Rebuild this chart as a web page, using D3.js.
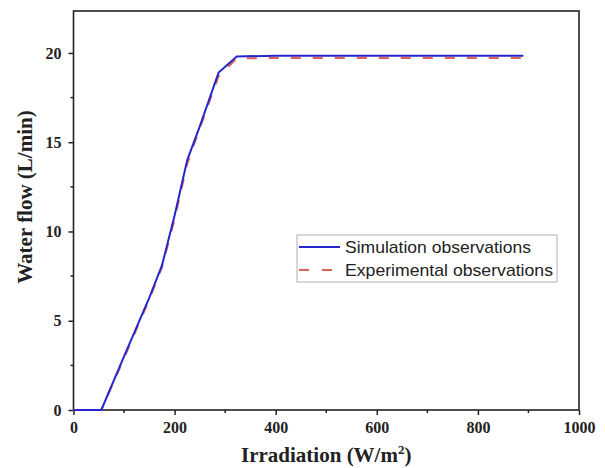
<!DOCTYPE html>
<html>
<head>
<meta charset="utf-8">
<script src="https://cdn.jsdelivr.net/npm/d3@7"></script>
<style>
  html, body { margin: 0; padding: 0; background: #fff; }
  svg { display: block; }
</style>
</head>
<body>
<svg id="chart" width="605" height="468"></svg>
<script>
// Irradiation (W/m²) vs water flow (L/min)
const simIrradiation = [0, 55, 100, 150, 175, 200, 225, 250, 287, 323, 400, 500, 600, 700, 800, 890];
const simFlow        = [0, 0, 3.0, 6.3, 8.1, 10.9, 14.0, 15.9, 18.9, 19.8, 19.85, 19.85, 19.85, 19.85, 19.85, 19.85];

const expIrradiation = [0, 55, 100, 150, 175, 200, 225, 250, 287, 323, 400, 500, 600, 700, 800, 890];
const expFlow        = [0, 0, 2.9, 6.2, 8.0, 10.7, 13.8, 15.8, 18.7, 19.7, 19.72, 19.72, 19.72, 19.72, 19.72, 19.72];

const xTicks = [0, 200, 400, 600, 800, 1000];
const yTicks = [0, 5, 10, 15, 20];
const seriesNames = ["Simulation observations", "Experimental observations"];

const svg = d3.select("#chart");
const plotLeft = 73.5, plotRight = 579, plotTop = 11, plotBottom = 410;

const x = d3.scaleLinear().domain([0, 1000]).range([plotLeft, plotRight]);
const y = d3.scaleLinear().domain([0, 22.35]).range([plotBottom, plotTop]);

const axisColor = "#222";
const tickFont = "'Liberation Serif', 'Times New Roman', serif";

// minor ticks
const xMinor = d3.range(100, 1000, 200);
const yMinor = d3.range(2.5, 22.5, 5);

svg.append("g").selectAll("line").data(xMinor).join("line")
  .attr("x1", d => x(d)).attr("x2", d => x(d))
  .attr("y1", plotBottom).attr("y2", plotBottom + 3)
  .attr("stroke", axisColor).attr("stroke-width", 1.5);
svg.append("g").selectAll("line").data(yMinor).join("line")
  .attr("x1", plotLeft - 3).attr("x2", plotLeft)
  .attr("y1", d => y(d)).attr("y2", d => y(d))
  .attr("stroke", axisColor).attr("stroke-width", 1.5);

// x axis
const gx = svg.append("g").attr("transform", `translate(0,${plotBottom})`)
  .call(d3.axisBottom(x).tickValues(xTicks).tickSize(5).tickPadding(7).tickFormat(d3.format("d")));
gx.select(".domain").remove();
gx.selectAll("line").attr("stroke", axisColor).attr("stroke-width", 1.5);
gx.selectAll("text").attr("fill", "#222").attr("font-family", tickFont)
  .attr("font-weight", "bold").attr("font-size", 16);

// y axis
const gy = svg.append("g").attr("transform", `translate(${plotLeft},0)`)
  .call(d3.axisLeft(y).tickValues(yTicks).tickSize(5).tickPadding(7).tickFormat(d3.format("d")));
gy.select(".domain").remove();
gy.selectAll("line").attr("stroke", axisColor).attr("stroke-width", 1.5);
gy.selectAll("text").attr("fill", "#222").attr("font-family", tickFont)
  .attr("font-weight", "bold").attr("font-size", 16);

// frame
svg.append("rect")
  .attr("x", plotLeft).attr("y", plotTop)
  .attr("width", plotRight - plotLeft).attr("height", plotBottom - plotTop)
  .attr("fill", "none").attr("stroke", axisColor).attr("stroke-width", 1.6);

// series
const blue = "#2626cc";
const red = "#e0605a";

const simData = simIrradiation.map((v, i) => [v, simFlow[i]]);
const expData = expIrradiation.map((v, i) => [v, expFlow[i]]);
const line = d3.line().x(d => x(d[0])).y(d => y(d[1]));

svg.append("path").datum(expData)
  .attr("d", line).attr("fill", "none")
  .attr("stroke", red).attr("stroke-width", 2)
  .attr("stroke-dasharray", "10,12");

svg.append("path").datum(simData)
  .attr("d", line).attr("fill", "none")
  .attr("stroke", blue).attr("stroke-width", 2);

// legend
const lg = svg.append("g");
lg.append("rect")
  .attr("x", 297).attr("y", 235).attr("width", 260).attr("height", 47)
  .attr("fill", "#fff").attr("stroke", "#b0b0b0").attr("stroke-width", 1);
const legendItems = [
  { name: seriesNames[0], color: blue, dash: null, yy: 247 },
  { name: seriesNames[1], color: red, dash: "10,13", yy: 270 }
];
legendItems.forEach(it => {
  lg.append("line")
    .attr("x1", 299).attr("x2", 340)
    .attr("y1", it.yy).attr("y2", it.yy)
    .attr("stroke", it.color).attr("stroke-width", 2)
    .attr("stroke-dasharray", it.dash);
  lg.append("text")
    .attr("x", 345).attr("y", it.yy).attr("dy", "0.35em")
    .attr("font-family", "'Liberation Sans', Arial, sans-serif")
    .attr("font-size", 17).attr("fill", "#222")
    .attr("textLength", 208).attr("lengthAdjust", "spacingAndGlyphs")
    .text(it.name);
});
// first label is shorter than the second
lg.selectAll("text").filter((d, i) => i === 0).attr("textLength", 186);

// axis titles
const xt = svg.append("text")
  .attr("x", (plotLeft + plotRight) / 2).attr("y", 462)
  .attr("text-anchor", "middle")
  .attr("font-family", tickFont).attr("font-weight", "bold")
  .attr("font-size", 21).attr("fill", "#222");
xt.append("tspan").text("Irradiation (W/m");
xt.append("tspan").attr("font-size", 13).attr("dy", -8).text("2");
xt.append("tspan").attr("dy", 8).text(")");

svg.append("text")
  .attr("transform", `translate(32,197) rotate(-90)`)
  .attr("text-anchor", "middle")
  .attr("font-family", tickFont).attr("font-weight", "bold")
  .attr("font-size", 21).attr("fill", "#222")
  .text("Water flow (L/min)");
</script>
</body>
</html>
